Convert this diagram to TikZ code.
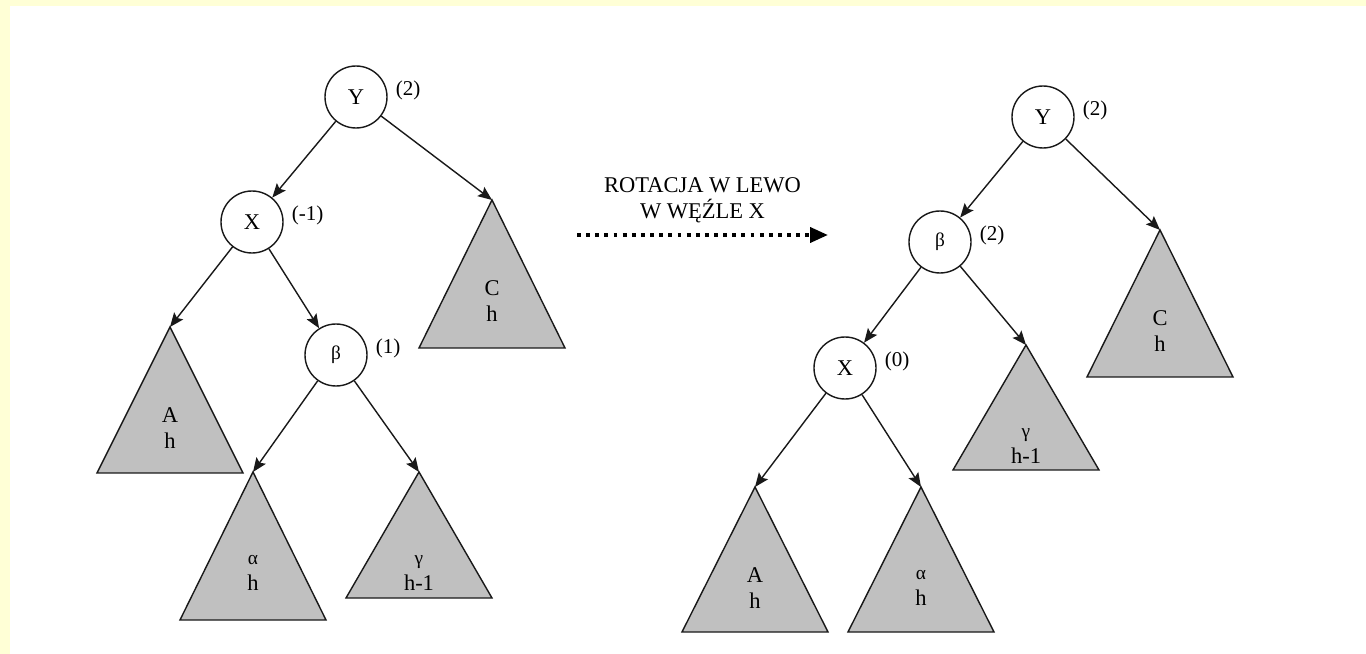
\documentclass[tikz,border=0pt]{standalone}
\usepackage{fontspec}
\setmainfont{Liberation Serif}
\usetikzlibrary{arrows.meta,positioning,calc}

\definecolor{pagebg}{HTML}{FFFFD6}
\definecolor{treegray}{HTML}{C0C0C0}

% subtree: name, apex, height, text
\newcommand\subtree[4]{%
  \coordinate (#1) at (#2);
  \filldraw[tri] (#1) -- ++(-1.46,-#3) -- ++(2.92,0) -- cycle;
  \node[tritext] (#1-txt) at ([yshift=-2.02cm]#1) {#4};
}

\begin{document}
\begin{tikzpicture}[
  font=\fontsize{12.8}{14.5}\selectfont,
  >=Stealth,
  knot/.style={
    circle, draw=black!90, fill=white, line width=0.8pt,
    minimum size=1.24cm, inner sep=0pt
  },
  balance/.style={
    label={[lbl, label distance=0.12cm, yshift=0.13cm]right:#1}
  },
  tri/.style={draw=black!90, fill=treegray, line width=0.8pt},
  tritext/.style={align=center, inner sep=1pt},
  gk/.style={font=\fontsize{11}{12}\selectfont},
  arr/.style={-{Stealth[length=8pt,width=6.5pt,inset=1.5pt]}, line width=0.8pt, black!90},
  rot/.style={-{Triangle[length=0.36cm,width=0.30cm]}, line width=2.2pt,
    dash pattern=on 2.2pt off 3pt},
  lbl/.style={font=\fontsize{12}{13}\selectfont, inner sep=1pt}
]

\useasboundingbox (0,0) rectangle (27.32,-13.08);
\fill[pagebg] (0,0) rectangle (27.32,-13.08);
\fill[white] (0.2,-0.12) rectangle (27.32,-13.08);

%% ── Left tree (before) ───────────────────────────────────────────────
\node[knot, balance=(2)]  (lY) at (7.12,-1.94) {Y};
\node[knot, balance=(-1)] (lX) at (5.04,-4.44) {X};
\node[knot, balance=(1), gk] (lB) at (6.72,-7.10) {β};

\subtree{lC}{9.84,-4.00}{2.96}{C\\h}
\subtree{lA}{3.40,-6.54}{2.92}{A\\h}
\subtree{lAl}{5.06,-9.44}{2.96}{{\fontsize{11}{12}\selectfont α}\\h}
\subtree{lG}{8.38,-9.44}{2.52}{{\fontsize{11}{12}\selectfont γ}\\h-1}

\foreach \a/\b in {lY/lX, lY/lC, lX/lA, lX/lB, lB/lAl, lB/lG}
  \draw[arr] (\a) -- (\b);

%% ── Rotation arrow ──────────────────────────────────────────────────
\coordinate (rs) at (11.54,-4.70);
\coordinate (re) at (16.56,-4.70);
\draw[rot] (rs) -- (re);
\node[align=center, above=0.12cm] (rlbl) at ($(rs)!0.5!(re)$) {ROTACJA W LEWO\\W WĘŹLE X};

%% ── Right tree (after) ──────────────────────────────────────────────
\node[knot, balance=(2)] (rY) at (20.86,-2.34) {Y};
\node[knot, balance=(2), gk] (rB) at (18.80,-4.84) {β};
\node[knot, balance=(0)] (rX) at (16.90,-7.36) {X};

\subtree{rC}{23.20,-4.60}{2.94}{C\\h}
\subtree{rG}{20.52,-6.90}{2.50}{{\fontsize{11}{12}\selectfont γ}\\h-1}
\subtree{rA}{15.10,-9.74}{2.90}{A\\h}
\subtree{rAl}{18.42,-9.74}{2.90}{{\fontsize{11}{12}\selectfont α}\\h}

\foreach \a/\b in {rY/rB, rY/rC, rB/rX, rB/rG, rX/rA, rX/rAl}
  \draw[arr] (\a) -- (\b);

\end{tikzpicture}
\end{document}
